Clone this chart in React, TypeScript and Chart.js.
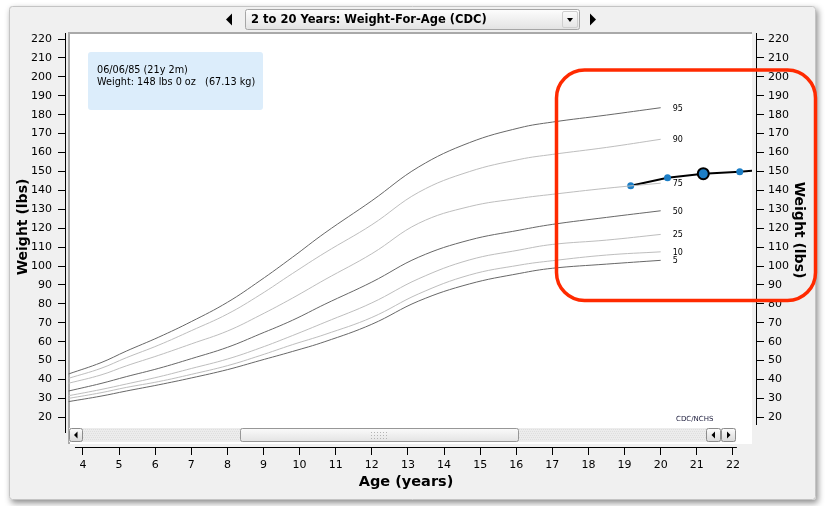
import React, { useEffect, useRef } from "react";
import { Chart, registerables } from "chart.js";

Chart.register(...registerables);

// ---- Data ----
const ages = [3.6, 4.5, 5.2, 6.1, 7.0, 8.0, 8.9, 9.8, 10.7, 12.0, 13.3, 14.7, 16.1, 17.0, 18.5, 20.0];
const p95 = [42.9, 48.9, 55.0, 62.4, 70.6, 80.8, 92.2, 104.6, 117.5, 134.5, 152.4, 165.2, 173.1, 176.1, 179.8, 183.7];
const p90 = [40.6, 45.9, 51.5, 58.2, 65.8, 74.6, 84.7, 96.0, 107.0, 121.8, 139.0, 149.9, 156.4, 159.0, 162.7, 167.0];
const p75 = [38.0, 42.4, 47.2, 52.8, 58.8, 65.6, 73.9, 83.0, 92.8, 106.5, 122.6, 131.4, 135.8, 137.9, 141.1, 143.8];
const p50 = [33.9, 37.9, 41.5, 45.9, 51.0, 57.0, 64.0, 71.3, 79.8, 91.5, 104.7, 113.7, 119.0, 122.0, 125.7, 129.2];
const p25 = [31.4, 34.7, 37.6, 41.4, 45.8, 50.8, 56.6, 63.2, 70.2, 80.5, 93.3, 103.2, 108.5, 111.4, 113.7, 116.7];
const p10 = [30.0, 33.0, 35.8, 38.9, 42.7, 47.3, 52.6, 58.4, 63.8, 72.8, 85.3, 95.2, 100.5, 102.8, 105.8, 107.5];
const p5 = [28.3, 31.2, 33.9, 37.2, 40.8, 45.2, 50.0, 54.8, 60.0, 69.2, 81.5, 90.5, 96.1, 98.8, 101.0, 103.0];

const percentileLabels = ["95", "90", "75", "50", "25", "10", "5"];
const percentileSeries = [p95, p90, p75, p50, p25, p10, p5];
const percentileDark = [true, false, false, true, false, false, true];

const patientAges = [19.17, 20.19, 21.18, 22.19, 23.2];
const patientWeights = [142.4, 146.7, 148.8, 149.9, 151.2];
const selectedPoint = 2;

const yTicks = [20, 30, 40, 50, 60, 70, 80, 90, 100, 110, 120, 130, 140, 150, 160, 170, 180, 190, 200, 210, 220];
const xTicks = [4, 5, 6, 7, 8, 9, 10, 11, 12, 13, 14, 15, 16, 17, 18, 19, 20, 21, 22];

const headerTitle = "2 to 20 Years: Weight-For-Age (CDC)";
const yTitle = "Weight (lbs)";
const xTitle = "Age (years)";
const sourceText = "CDC/NCHS";
const infoLine1 = "06/06/85 (21y 2m)";
const infoLine2 = "Weight: 148 lbs 0 oz   (67.13 kg)";

const Y_MIN = 4.3;
const Y_MAX = 223.2;
const X_MIN = 3.53;
const X_MAX = 22.64;

const FONT = "'DejaVu Sans', 'Liberation Sans', sans-serif";

function rr(ctx: CanvasRenderingContext2D, x: number, y: number, w: number, h: number, r: number) {
  ctx.beginPath();
  ctx.moveTo(x + r, y);
  ctx.lineTo(x + w - r, y);
  ctx.arcTo(x + w, y, x + w, y + r, r);
  ctx.lineTo(x + w, y + h - r);
  ctx.arcTo(x + w, y + h, x + w - r, y + h, r);
  ctx.lineTo(x + r, y + h);
  ctx.arcTo(x, y + h, x, y + h - r, r);
  ctx.lineTo(x, y + r);
  ctx.arcTo(x, y, x + r, y, r);
  ctx.closePath();
}

function tri(ctx: CanvasRenderingContext2D, pts: number[][]) {
  ctx.beginPath();
  ctx.moveTo(pts[0][0], pts[0][1]);
  for (let i = 1; i < pts.length; i++) ctx.lineTo(pts[i][0], pts[i][1]);
  ctx.closePath();
  ctx.fill();
}

function button(ctx: CanvasRenderingContext2D, x: number, y: number, w: number, h: number, dir: string) {
  const g = ctx.createLinearGradient(0, y, 0, y + h);
  g.addColorStop(0, "#fdfdfd");
  g.addColorStop(1, "#d8d8d8");
  rr(ctx, x + 0.5, y + 0.5, w - 1, h - 1, 2);
  ctx.fillStyle = g;
  ctx.fill();
  ctx.strokeStyle = "#8c8c8c";
  ctx.lineWidth = 1;
  ctx.stroke();
  ctx.fillStyle = "#000";
  const cx = x + w / 2;
  const cy = y + h / 2;
  if (dir === "left") tri(ctx, [[cx - 2, cy], [cx + 1.5, cy - 3.5], [cx + 1.5, cy + 3.5]]);
  else tri(ctx, [[cx + 2, cy], [cx - 1.5, cy - 3.5], [cx - 1.5, cy + 3.5]]);
}

const decor = {
  id: "decor",
  beforeDraw(chart: any) {
    const ctx: CanvasRenderingContext2D = chart.ctx;
    const ca = chart.chartArea;
    const W = chart.width;
    const H = chart.height;
    ctx.save();
    ctx.fillStyle = "#ffffff";
    ctx.fillRect(0, 0, W, H);
    // panel with shadow
    ctx.shadowColor = "rgba(0,0,0,0.45)";
    ctx.shadowBlur = 6;
    ctx.shadowOffsetX = 2;
    ctx.shadowOffsetY = 3;
    rr(ctx, 9, 6, W - 18, H - 12, 3);
    ctx.fillStyle = "#f0f0f0";
    ctx.fill();
    ctx.shadowColor = "transparent";
    ctx.strokeStyle = "#c4c4c4";
    ctx.lineWidth = 1;
    rr(ctx, 9.5, 6.5, W - 19, H - 13, 3);
    ctx.stroke();

    // header: arrows and combo box
    ctx.fillStyle = "#000";
    tri(ctx, [[226, 19.5], [232, 13.5], [232, 25.5]]);
    tri(ctx, [[596, 19.5], [590, 13.5], [590, 25.5]]);
    const g = ctx.createLinearGradient(0, 9, 0, 30);
    g.addColorStop(0, "#fefefe");
    g.addColorStop(1, "#e2e2e2");
    rr(ctx, 245.5, 9.5, 334, 20, 2);
    ctx.fillStyle = g;
    ctx.fill();
    ctx.strokeStyle = "#a6a6a6";
    ctx.stroke();
    rr(ctx, 562.5, 11.5, 15, 16, 1.5);
    ctx.strokeStyle = "#cfcfcf";
    ctx.stroke();
    ctx.fillStyle = "#000";
    tri(ctx, [[567, 18], [573, 18], [570, 22]]);
    ctx.font = "bold 11.5px " + FONT;
    ctx.textAlign = "left";
    ctx.textBaseline = "middle";
    ctx.fillText(headerTitle, 251, 20);

    // white plot area with sunken frame
    const pl = ca.left + 2;
    const pr = ca.right - 4;
    const pt = ca.top - 1;
    const pb = ca.bottom - 3;
    ctx.fillStyle = "#ffffff";
    ctx.fillRect(pl, pt, pr - pl, pb - pt);
    ctx.strokeStyle = "#a9a9a9";
    ctx.lineWidth = 2;
    ctx.beginPath();
    ctx.moveTo(pl + 1, pb);
    ctx.lineTo(pl + 1, pt + 1);
    ctx.lineTo(pr, pt + 1);
    ctx.stroke();

    // scrollbar
    const sbTop = pb - 16;
    const sbH = 14;
    const sbLeft = pl + 1;
    const sbRight = pr - 16;
    ctx.fillStyle = "#ececec";
    ctx.fillRect(sbLeft, sbTop, sbRight - sbLeft, sbH);
    ctx.fillStyle = "#dedede";
    for (let x = sbLeft + 14; x < sbRight - 30; x += 2) {
      for (let y = sbTop + 1; y < sbTop + sbH - 1; y += 2) {
        ctx.fillRect(x + ((y - sbTop) % 4 === 1 ? 0 : 1), y, 1, 1);
      }
    }
    button(ctx, sbLeft, sbTop, 14, sbH, "left");
    button(ctx, sbRight - 30, sbTop, 15, sbH, "left");
    button(ctx, sbRight - 15, sbTop, 15, sbH, "right");
    const thL = 240;
    const thR = 518;
    const tg = ctx.createLinearGradient(0, sbTop, 0, sbTop + sbH);
    tg.addColorStop(0, "#fbfbfb");
    tg.addColorStop(1, "#e3e3e3");
    rr(ctx, thL + 0.5, sbTop + 0.5, thR - thL, sbH - 1, 2);
    ctx.fillStyle = tg;
    ctx.fill();
    ctx.strokeStyle = "#979797";
    ctx.lineWidth = 1;
    ctx.stroke();
    ctx.fillStyle = "#b4b4b4";
    const gx = (thL + thR) / 2 - 8;
    for (let i = 0; i < 6; i++) {
      for (let j = 0; j < 3; j++) {
        ctx.fillRect(gx + i * 3, sbTop + 4 + j * 3, 1, 1);
      }
    }
    ctx.restore();
  },
  afterDraw(chart: any) {
    const ctx: CanvasRenderingContext2D = chart.ctx;
    const ca = chart.chartArea;
    const xs = chart.scales.x;
    const ys = chart.scales.y;
    ctx.save();
    // axis lines
    ctx.strokeStyle = "#000";
    ctx.lineWidth = 1;
    ctx.beginPath();
    const lx = Math.round(ca.left) - 0.5;
    ctx.moveTo(lx, ca.top);
    ctx.lineTo(lx, ca.bottom - 14);
    const rx = Math.round(ca.right) + 0.5;
    ctx.moveTo(rx, ca.top);
    ctx.lineTo(rx, ca.bottom - 22);
    const by = Math.round(ca.bottom) + 0.5;
    ctx.moveTo(xs.getPixelForValue(xTicks[0]) - 8, by);
    ctx.lineTo(xs.getPixelForValue(xTicks[xTicks.length - 1]) + 4, by);
    ctx.stroke();

    // axis titles
    ctx.fillStyle = "#000";
    ctx.font = "bold 14px " + FONT;
    ctx.textAlign = "center";
    ctx.textBaseline = "middle";
    ctx.save();
    ctx.translate(23, 227);
    ctx.rotate(-Math.PI / 2);
    ctx.fillText(yTitle, 0, 0);
    ctx.restore();
    ctx.save();
    ctx.translate(799, 230);
    ctx.rotate(Math.PI / 2);
    ctx.fillText(yTitle, 0, 0);
    ctx.restore();
    ctx.font = "bold 14.5px " + FONT;
    ctx.fillText(xTitle, 406, 482);

    // percentile labels
    ctx.font = "8px " + FONT;
    ctx.textAlign = "left";
    percentileSeries.forEach((s, i) => {
      const x = xs.getPixelForValue(ages[ages.length - 1]) + 12;
      const y = ys.getPixelForValue(s[s.length - 1]) + 1;
      ctx.fillText(percentileLabels[i], x, y);
    });

    // source
    ctx.font = "7px " + FONT;
    ctx.fillStyle = "#1a1a3a";
    ctx.fillText(sourceText, ca.right - 80, ca.bottom - 28);

    // info box
    rr(ctx, 88, 52, 175, 58, 3);
    ctx.fillStyle = "#dcedfb";
    ctx.fill();
    ctx.fillStyle = "#000";
    ctx.font = "9.7px " + FONT;
    ctx.fillText(infoLine1, 97, 70);
    ctx.fillText(infoLine2, 97, 82);

    // red highlight box
    rr(ctx, 556.5, 70, 259, 230.5, 28);
    ctx.strokeStyle = "#ff2a00";
    ctx.lineWidth = 3.5;
    ctx.stroke();
    ctx.restore();
  },
};

export default function App() {
  const ref = useRef<HTMLCanvasElement>(null);
  useEffect(() => {
    const canvas = ref.current;
    if (!canvas) return;
    const datasets: any[] = percentileSeries.map((s, i) => ({
      label: percentileLabels[i],
      data: ages.map((a, k) => ({ x: a, y: s[k] })),
      borderColor: percentileDark[i] ? "#686868" : "#bebebe",
      borderWidth: 1,
      pointRadius: 0,
      fill: false,
      tension: 0.4,
    }));
    datasets.push({
      label: "patient",
      data: patientAges.map((a, k) => ({ x: a, y: patientWeights[k] })),
      borderColor: "#000",
      borderWidth: 2,
      pointBackgroundColor: "#1c7ec6",
      pointBorderColor: patientAges.map((_, k) => (k === selectedPoint ? "#000" : "#1c7ec6")),
      pointBorderWidth: patientAges.map((_, k) => (k === selectedPoint ? 2 : 0)),
      pointRadius: patientAges.map((_, k) => (k === selectedPoint ? 5.5 : 3.5)),
      fill: false,
      tension: 0,
      clip: { left: 0, top: 0, right: -4, bottom: 0 },
    });

    const yAxisCommon = {
      type: "linear",
      min: Y_MIN,
      max: Y_MAX,
      afterBuildTicks: (s: any) => {
        s.ticks = yTicks.map((v) => ({ value: v }));
      },
      ticks: { autoSkip: false, color: "#000", font: { family: FONT, size: 11 } },
      grid: { display: true, drawOnChartArea: false, drawTicks: true, tickLength: 8, color: "#000", tickColor: "#000" },
      border: { display: false },
      title: { display: false },
    };

    const chart = new Chart(canvas, {
      type: "line",
      data: { datasets },
      plugins: [decor],
      options: {
        responsive: false,
        animation: false,
        devicePixelRatio: 1,
        events: [],
        layout: { padding: { left: 10, right: 15, top: 33, bottom: 0 } },
        plugins: { legend: { display: false }, tooltip: { enabled: false } },
        scales: {
          x: {
            type: "linear",
            position: "bottom",
            min: X_MIN,
            max: X_MAX,
            afterBuildTicks: (s: any) => {
              s.ticks = xTicks.map((v) => ({ value: v }));
            },
            afterFit: (s: any) => {
              s.height = 59;
            },
            ticks: { autoSkip: false, maxRotation: 0, color: "#000", padding: 4, font: { family: FONT, size: 11 } },
            grid: { display: true, drawOnChartArea: false, drawTicks: true, tickLength: 8, color: "#000", tickColor: "#000" },
            border: { display: false },
            title: { display: false },
          },
          y: {
            ...yAxisCommon,
            position: "left",
            afterFit: (s: any) => {
              s.width = 56;
            },
            ticks: { ...yAxisCommon.ticks, padding: 6 },
          },
          y2: {
            ...yAxisCommon,
            position: "right",
            afterFit: (s: any) => {
              s.width = 54;
            },
            ticks: { ...yAxisCommon.ticks, padding: 4 },
          },
        },
      } as any,
    });
    return () => chart.destroy();
  }, []);
  return (
    <div style={{ position: "absolute", left: 0, top: 0, width: 825, height: 506 }}>
      <canvas ref={ref} width={825} height={506} style={{ display: "block", width: 825, height: 506 }} />
    </div>
  );
}
